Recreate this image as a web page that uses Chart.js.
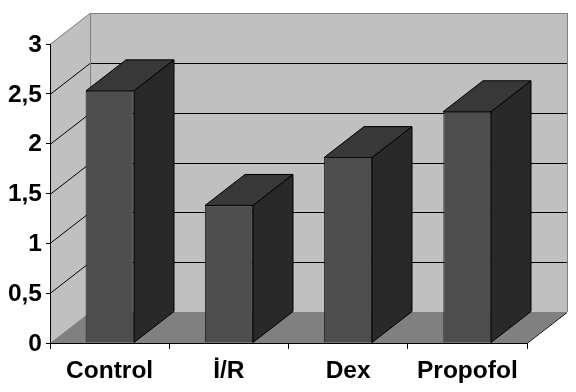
<!DOCTYPE html>
<html>
<head>
<meta charset="utf-8">
<script src="https://cdn.jsdelivr.net/npm/chart.js@4"></script>
<style>
body { margin: 0; background: #fff; }
</style>
</head>
<body>
<canvas id="myChart" width="576" height="392"></canvas>
<script>
var categories = ["Control", "İ/R", "Dex", "Propofol"];
var barValues = [2.53, 1.38, 1.86, 2.32];
var yTickLabels = ["0", "0,5", "1", "1,5", "2", "2,5", "3"];

// how far the back wall is pushed away from the front plane
var depthX = 40;
var depthY = 31;

function poly(ctx, pts, fill, stroke) {
    ctx.beginPath();
    ctx.moveTo(pts[0][0], pts[0][1]);
    for (var i = 1; i < pts.length; i++) ctx.lineTo(pts[i][0], pts[i][1]);
    ctx.closePath();
    if (fill) { ctx.fillStyle = fill; ctx.fill(); }
    if (stroke) { ctx.strokeStyle = stroke; ctx.lineWidth = 1; ctx.stroke(); }
}

function line(ctx, x1, y1, x2, y2, color) {
    ctx.beginPath();
    ctx.moveTo(x1, y1);
    ctx.lineTo(x2, y2);
    ctx.strokeStyle = color;
    ctx.lineWidth = 1;
    ctx.stroke();
}

var box3d = {
    id: "box3d",
    beforeDraw: function (chart) {
        var ctx = chart.ctx, a = chart.chartArea, y = chart.scales.y;
        ctx.save();
        // side wall, back wall, floor
        poly(ctx, [[a.left, a.top], [a.left + depthX, a.top - depthY], [a.left + depthX, a.bottom - depthY], [a.left, a.bottom]], "#c0c0c0");
        poly(ctx, [[a.left + depthX, a.top - depthY], [a.right + depthX, a.top - depthY], [a.right + depthX, a.bottom - depthY], [a.left + depthX, a.bottom - depthY]], "#c0c0c0");
        poly(ctx, [[a.left, a.bottom], [a.left + depthX, a.bottom - depthY], [a.right + depthX, a.bottom - depthY], [a.right, a.bottom]], "#808080");
        // grid lines run along both walls
        y.ticks.forEach(function (t) {
            var py = Math.round(y.getPixelForValue(t.value)) + 0.5;
            if (t.value == 0) return;
            var c = t.value == 3 ? "#808080" : "#000";
            line(ctx, a.left, py, a.left + depthX, py - depthY, c);
            line(ctx, a.left + depthX, py - depthY, a.right + depthX, py - depthY, c);
        });
        line(ctx, a.left + depthX + 0.5, a.top - depthY, a.left + depthX + 0.5, a.bottom - depthY, "#808080");
        line(ctx, a.right, a.bottom + 0.5, a.right + depthX, a.bottom - depthY + 0.5, "#000");
        line(ctx, a.right + depthX + 0.5, a.top - depthY, a.right + depthX + 0.5, a.bottom - depthY, "#808080");
        ctx.restore();
    },
    afterDatasetsDraw: function (chart) {
        var ctx = chart.ctx;
        ctx.save();
        chart.getDatasetMeta(0).data.forEach(function (bar) {
            var l = Math.round(bar.x - bar.width / 2), r = Math.round(bar.x + bar.width / 2);
            var t = bar.y, b = bar.base;
            poly(ctx, [[l, t], [l + depthX, t - depthY], [r + depthX, t - depthY], [r, t]], "#383838", "#000");
            poly(ctx, [[r, t], [r + depthX, t - depthY], [r + depthX, b - depthY], [r, b]], "#292929", "#000");
        });
        ctx.restore();
    }
};

new Chart("myChart", {
    type: "bar",
    data: {
        labels: categories,
        datasets: [{
            data: barValues,
            backgroundColor: "#4d4d4d",
            borderColor: "#1a1a1a",
            borderWidth: 1,
            categoryPercentage: 1,
            barPercentage: 0.403
        }]
    },
    options: {
        responsive: false,
        animation: false,
        layout: { padding: { top: 44, right: 49, left: 0, bottom: 0 } },
        plugins: { legend: { display: false }, tooltip: { enabled: false } },
        scales: {
            x: {
                afterFit: function (scale) { scale.height = 49; },
                grid: { drawOnChartArea: false, tickLength: 6, tickColor: "#000" },
                border: { color: "#000" },
                ticks: {
                    color: "#000",
                    padding: 8,
                    maxRotation: 0,
                    font: { family: "'Liberation Sans'", size: 24.5, weight: "bold" }
                }
            },
            y: {
                min: 0,
                max: 3,
                afterFit: function (scale) { scale.width = 50; },
                grid: { drawOnChartArea: false, tickLength: 4, tickColor: "#000" },
                border: { color: "#000" },
                ticks: {
                    stepSize: 0.5,
                    color: "#000",
                    padding: 4,
                    labelOffset: 1,
                    callback: function (value, index) { return yTickLabels[index]; },
                    font: { family: "'Liberation Sans'", size: 24.5, weight: "bold" }
                }
            }
        }
    },
    plugins: [box3d]
});
</script>
</body>
</html>
